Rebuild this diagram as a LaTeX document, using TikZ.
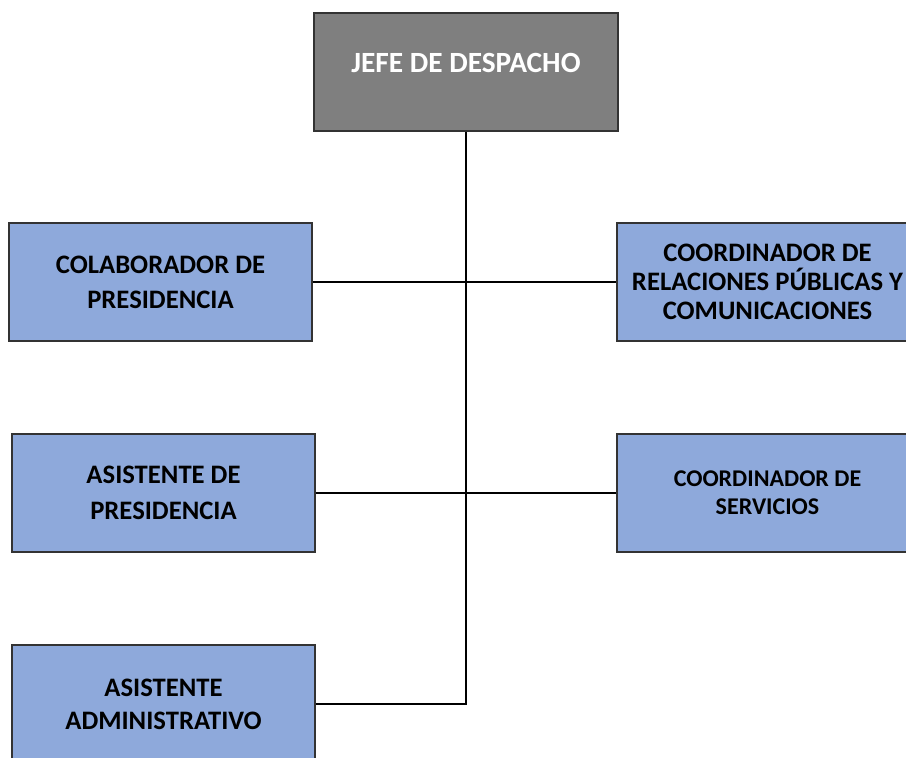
\documentclass[tikz,border=0pt]{standalone}
\usepackage{fontspec}
\setmainfont{Carlito}
\usepackage{tikz}
\definecolor{boxblue}{HTML}{8EA9DB}
\definecolor{boxgray}{HTML}{7F7F7F}
\tikzset{
	orgbox/.style={draw=black!80, line width=1.1pt, rectangle, inner sep=0pt, align=center, minimum width=227pt, minimum height=88.5pt, font=\bfseries},
	bluebox/.style={orgbox, fill=boxblue},
	graybox/.style={orgbox, fill=boxgray, text=white},
	orgline/.style={line width=1.5pt, black}
}
\begin{document}
\begin{tikzpicture}[x=0.75pt, y=-0.75pt]
			%%%%% START %%%%%
			\useasboundingbox (0, 0) rectangle (906, 757);
			\clip (0, 0) rectangle (906, 757);
			
			\node[graybox, minimum width=228pt, text depth=14pt, font=\bfseries\fontsize{22}{26}\selectfont] (jefe) at (466, 72) {JEFE DE DESPACHO};
			
			\node[bluebox, font=\bfseries\fontsize{20}{26.25}\selectfont] (colab) at (160.5, 282) {COLABORADOR DE\\PRESIDENCIA};
			\node[bluebox, minimum width=226pt, font=\bfseries\fontsize{20}{21.75}\selectfont] (rrpp) at (767.5, 282) {COORDINADOR DE\\RELACIONES PÚBLICAS Y\\COMUNICACIONES};
			
			\node[bluebox, font=\bfseries\fontsize{20}{27}\selectfont] (asist) at (163.5, 493) {ASISTENTE DE\\PRESIDENCIA};
			\node[bluebox, minimum width=226pt, font=\bfseries\fontsize{18}{21}\selectfont] (serv) at (767.5, 493) {COORDINADOR DE\\SERVICIOS};
			
			\node[bluebox, font=\bfseries\fontsize{20}{24.75}\selectfont] (admin) at (163.5, 704) {ASISTENTE\\ADMINISTRATIVO};
			
			\draw[orgline] (colab.east) -- (rrpp.west);
			\draw[orgline] (asist.east) -- (serv.west);
			\draw[orgline] (jefe.south) |- (admin.east);
			
			%%%%% END %%%%%
\end{tikzpicture}
\end{document}
